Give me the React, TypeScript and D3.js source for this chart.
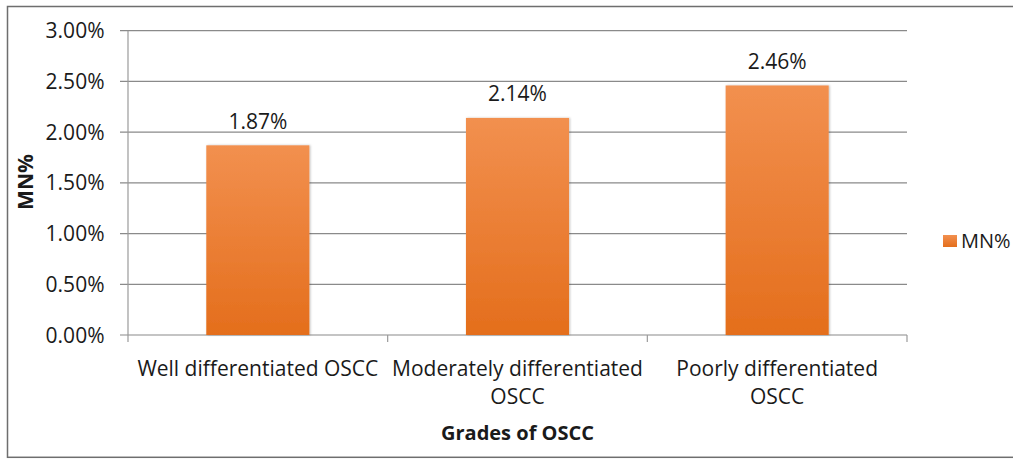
import React from "react";
import * as d3 from "d3";

const categories = ["Well differentiated OSCC", "Moderately differentiated OSCC", "Poorly differentiated OSCC"];
const categoryLines = [["Well differentiated OSCC"], ["Moderately differentiated", "OSCC"], ["Poorly differentiated", "OSCC"]];
const mnValues = [1.87, 2.14, 2.46];
const yTicks = [0, 0.5, 1, 1.5, 2, 2.5, 3];
const seriesName = "MN%";
const xTitle = "Grades of OSCC";
const yTitle = "MN%";

const W = 1013;
const H = 459;
const FONT = "'Open Sans', sans-serif";
const TXT = "#1a1a1a";

export default function App() {
  const left = 128, right = 907, top = 30.7, bottom = 335;
  const x = d3.scaleBand<string>().domain(categories).range([left, right]).padding(0);
  const y = d3.scaleLinear().domain([0, 3]).range([bottom, top]);
  const bw = x.bandwidth() * 0.397;
  const fmt = (v: number) => v.toFixed(2) + "%";

  return (
    <svg width={W} height={H} style={{ position: "absolute", left: 0, top: 0, background: "#fff" }}>
      <defs>
        <linearGradient id="barGrad" x1="0" y1="0" x2="0" y2="1">
          <stop offset="0%" stopColor="#F2904F" />
          <stop offset="100%" stopColor="#E46E1C" />
        </linearGradient>
        <filter id="shadow" x="-10%" y="-10%" width="120%" height="120%">
          <feDropShadow dx="1" dy="0" stdDeviation="1.2" floodColor="#000" floodOpacity="0.25" />
        </filter>
      </defs>
      <rect x={7.5} y={6.5} width={1010} height={450.8} fill="#fff" stroke="#6e6e6e" strokeWidth={1.5} />
      {/* gridlines */}
      {yTicks.map((t) => (
        <line key={"g" + t} x1={left - 8} x2={right} y1={y(t)} y2={y(t)} stroke="#8a8a8a" strokeWidth={1.2} />
      ))}
      {/* y axis */}
      <line x1={left} x2={left} y1={top} y2={bottom} stroke="#9a9a9a" strokeWidth={1.2} />
      {/* category ticks */}
      {[...categories.map((c) => x(c) as number), right].map((px, i) => (
        <line key={"t" + i} x1={px} x2={px} y1={bottom} y2={bottom + 7} stroke="#9a9a9a" strokeWidth={1.2} />
      ))}
      {/* y tick labels */}
      {yTicks.map((t) => (
        <text key={"yl" + t} x={104.5} y={y(t) + 7.5} textAnchor="end" fontFamily={FONT} fontSize={21} fill={TXT}>
          {fmt(t)}
        </text>
      ))}
      {/* bars */}
      {categories.map((c, i) => {
        const cx = (x(c) as number) + x.bandwidth() / 2;
        return (
          <g key={"b" + i}>
            <rect x={cx - bw / 2} y={y(mnValues[i])} width={bw} height={bottom - y(mnValues[i])} fill="url(#barGrad)" filter="url(#shadow)" />
            <text x={cx} y={y(mnValues[i]) - 16.5} textAnchor="middle" fontFamily={FONT} fontSize={21} fill={TXT}>
              {fmt(mnValues[i])}
            </text>
          </g>
        );
      })}
      {/* category labels */}
      {categories.map((c, i) => {
        const cx = (x(c) as number) + x.bandwidth() / 2;
        return (
          <text key={"cl" + i} textAnchor="middle" fontFamily={FONT} fontSize={21} fill={TXT}>
            {categoryLines[i].map((ln, j) => (
              <tspan key={j} x={cx} y={376 + j * 28}>{ln}</tspan>
            ))}
          </text>
        );
      })}
      {/* axis titles */}
      <text x={(left + right) / 2} y={440} textAnchor="middle" fontFamily={FONT} fontSize={20} fontWeight="bold" fill={TXT}>
        {xTitle}
      </text>
      <text transform={`translate(33,182) rotate(-90)`} textAnchor="middle" fontFamily={FONT} fontSize={21} fontWeight="bold" fill={TXT}>
        {yTitle}
      </text>
      {/* legend */}
      <rect x={943} y={235} width={14} height={12} fill="url(#barGrad)" />
      <text x={961} y={248} fontFamily={FONT} fontSize={20} fill={TXT}>{seriesName}</text>
    </svg>
  );
}
